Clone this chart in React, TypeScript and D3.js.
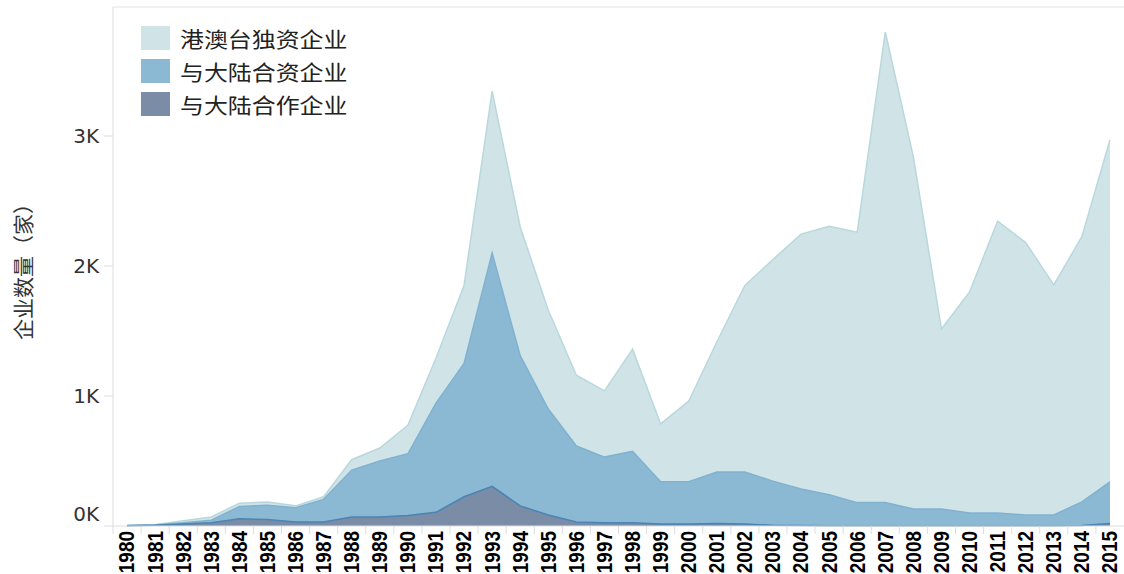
import * as d3 from "d3";

const years = d3.range(1980, 2016).map(String);

// 港澳台独资企业
const wfoe = [5, 10, 40, 70, 175, 185, 155, 225, 510, 600, 775, 1290, 1850, 3345, 2300, 1660, 1160, 1040, 1360, 785, 960, 1415, 1850, 2050, 2245, 2305, 2260, 3800, 2840, 1515, 1800, 2345, 2180, 1855, 2225, 2970];
// 与大陆合资企业
const jointVenture = [3, 10, 25, 45, 150, 160, 140, 205, 430, 500, 555, 945, 1250, 2100, 1310, 900, 615, 530, 575, 340, 340, 415, 415, 345, 285, 240, 180, 180, 130, 130, 100, 100, 85, 85, 185, 340];
// 与大陆合作企业
const cooperative = [2, 5, 15, 25, 55, 50, 30, 30, 70, 70, 80, 105, 225, 305, 155, 85, 30, 25, 25, 15, 15, 20, 15, 5, 3, 2, 2, 2, 2, 2, 2, 2, 2, 2, 3, 20];

const seriesNames = ["港澳台独资企业", "与大陆合资企业", "与大陆合作企业"];
const seriesValues = [wfoe, jointVenture, cooperative];
const fills = ["#d0e4e8", "#8bb9d4", "#7a8ca6"];
const strokes = ["#b9d8de", "#80b2d0", "#4a84b4"];

const yTicks = [0, 1000, 2000, 3000];

const W = 1124;
const H = 574;
const M = { top: 7, right: 0, bottom: 48, left: 113 };

export default function App() {
  const x = d3.scaleBand().domain(years).range([M.left, W - M.right]);
  const y = d3.scaleLinear().domain([0, 4000]).range([H - M.bottom, H - M.bottom - 520]);
  const cx = (yr: string) => (x(yr) as number) + x.bandwidth() / 2;

  const area = d3
    .area<number>()
    .x((_, i) => cx(years[i]))
    .y0(y(0))
    .y1((d) => y(d));
  const line = d3
    .line<number>()
    .x((_, i) => cx(years[i]))
    .y((d) => y(d));

  const x0 = M.left;
  const yBase = y(0);

  return (
    <svg
      width={W}
      height={H}
      style={{ position: "absolute", left: 0, top: 0, background: "white" }}
    >
      {/* frame */}
      <line x1={x0} x2={W} y1={M.top} y2={M.top} stroke="#e2e2e2" />
      <line x1={x0} x2={x0} y1={M.top} y2={yBase} stroke="#dddddd" />

      {seriesValues.map((vals, i) => (
        <g key={i}>
          <path d={area(vals) ?? ""} fill={fills[i]} />
          <path d={line(vals) ?? ""} fill="none" stroke={strokes[i]} strokeWidth={1.5} />
        </g>
      ))}

      {/* y axis */}
      {yTicks.map((t) => (
        <g key={t}>
          <line x1={x0 - 9} x2={x0} y1={y(t)} y2={y(t)} stroke="#dddddd" />
          <text
            x={x0 - 14}
            y={t === 0 ? y(t) - 12 : y(t)}
            textAnchor="end"
            dominantBaseline="central"
            fontFamily="DejaVu Sans, sans-serif"
            fontSize={20}
            fill="#333"
          >
            {d3.format(".0f")(t / 1000) + "K"}
          </text>
        </g>
      ))}
      <text
        transform={`translate(22,${(M.top + yBase) / 2}) rotate(-90)`}
        textAnchor="middle"
        dominantBaseline="central"
        fontFamily="Noto Sans CJK SC, sans-serif"
        fontSize={21}
        fill="#333"
      >
        企业数量（家）
      </text>

      {/* x axis */}
      <line x1={x0} x2={W} y1={yBase} y2={yBase} stroke="#dddddd" />
      {years.map((yr) => (
        <g key={yr}>
          <line
            x1={x(yr) as number}
            x2={x(yr) as number}
            y1={yBase}
            y2={yBase + 8}
            stroke="#dddddd"
          />
          <text
            transform={`translate(${cx(yr)},${yBase + 5}) rotate(-90) scale(1,1.12)`}
            textAnchor="end"
            dominantBaseline="central"
            fontFamily="Liberation Sans, Arial, sans-serif"
            fontWeight="bold"
            fontSize={19}
            fill="#000"
          >
            {yr}
          </text>
        </g>
      ))}

      {/* legend */}
      {seriesNames.map((n, i) => (
        <g key={n} transform={`translate(141,${26 + i * 33})`}>
          <rect width={29} height={24} fill={fills[i]} />
          <text
            transform="translate(39,12) scale(1.14,1)"
            dominantBaseline="central"
            fontFamily="Noto Sans CJK SC, sans-serif"
            fontSize={21}
            fill="#222"
          >
            {n}
          </text>
        </g>
      ))}
    </svg>
  );
}
